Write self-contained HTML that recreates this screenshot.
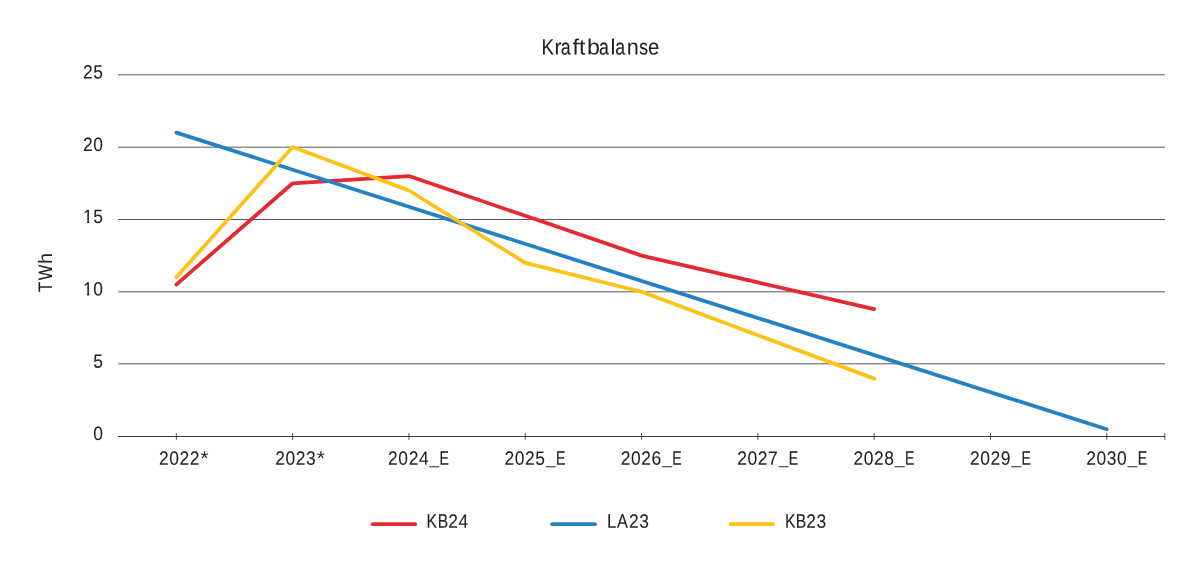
<!DOCTYPE html>
<html lang="no"><head><meta charset="utf-8"><title>Kraftbalanse</title>
<style>
html,body{margin:0;padding:0;background:#fff;}
body{width:1200px;height:569px;overflow:hidden;}
svg{display:block;}
#labels{font-family:"Liberation Sans",sans-serif;font-size:19.2px;fill:#1f1f1f;stroke:#1f1f1f;stroke-width:0;text-rendering:geometricPrecision;}
.d{fill:none;stroke-width:3.75;stroke-linecap:round;stroke-linejoin:round;}
</style></head><body>
<svg width="1200" height="569" viewBox="0 0 1200 569" role="img" aria-label="Kraftbalanse">
<rect width="1200" height="569" fill="#fff"/>
<g id="grid" stroke="#222" stroke-width="0.75">
<line x1="118" y1="74.8" x2="1164.9" y2="74.8"/>
<line x1="118" y1="147.2" x2="1164.9" y2="147.2"/>
<line x1="118" y1="219.5" x2="1164.9" y2="219.5"/>
<line x1="118" y1="291.8" x2="1164.9" y2="291.8"/>
<line x1="118" y1="363.8" x2="1164.9" y2="363.8"/>
</g>
<line id="axis" x1="118" y1="436.5" x2="1164.9" y2="436.5" stroke="#222" stroke-width="0.9"/>
<g id="ticks" stroke="#222" stroke-width="0.8">
<line x1="176.32" y1="433.1" x2="176.32" y2="439.8"/>
<line x1="292.63" y1="433.1" x2="292.63" y2="439.8"/>
<line x1="408.94" y1="433.1" x2="408.94" y2="439.8"/>
<line x1="525.25" y1="433.1" x2="525.25" y2="439.8"/>
<line x1="641.56" y1="433.1" x2="641.56" y2="439.8"/>
<line x1="757.87" y1="433.1" x2="757.87" y2="439.8"/>
<line x1="874.18" y1="433.1" x2="874.18" y2="439.8"/>
<line x1="990.49" y1="433.1" x2="990.49" y2="439.8"/>
<line x1="1106.8" y1="433.1" x2="1106.8" y2="439.8"/>
<line x1="1164.9" y1="433.1" x2="1164.9" y2="439.8"/>
</g>
<g id="series">
<polyline class="d" stroke="#e52931" points="176.32,284.56 292.63,183.27 408.94,176.04 525.25,215.83 641.56,255.62 757.87,282.39 874.18,309.16"/>
<polyline class="d" stroke="#2381c4" points="176.32,132.63 1106.8,429.26"/>
<polyline class="d" stroke="#fcc215" points="176.32,277.33 292.63,147.1 408.94,190.51 525.25,262.86 641.56,291.8 757.87,335.21 874.18,378.62"/>
</g>
<g id="labels">
<text aria-label="Kraftbalanse" transform="rotate(0.06 600.41 54.45)" y="54.45" font-size="22.1"><tspan x="541.42" textLength="12.44" lengthAdjust="spacingAndGlyphs" stroke-width="0.11">K</tspan><tspan x="554.41" textLength="6.99" lengthAdjust="spacingAndGlyphs" stroke-width="0.03">r</tspan><tspan x="560.71" textLength="9.83" lengthAdjust="spacingAndGlyphs" stroke-width="0.14">a</tspan><tspan x="572.57" textLength="6.45" lengthAdjust="spacingAndGlyphs">f</tspan><tspan x="579.06" textLength="6.45" lengthAdjust="spacingAndGlyphs">t</tspan><tspan x="586.91" textLength="12.91" lengthAdjust="spacingAndGlyphs">b</tspan><tspan x="598.96" textLength="9.83" lengthAdjust="spacingAndGlyphs" stroke-width="0.14">a</tspan><tspan x="610.5" textLength="4.93" lengthAdjust="spacingAndGlyphs">l</tspan><tspan x="615.16" textLength="9.83" lengthAdjust="spacingAndGlyphs" stroke-width="0.14">a</tspan><tspan x="626.66" textLength="12.04" lengthAdjust="spacingAndGlyphs">n</tspan><tspan x="639.2" textLength="8.84" lengthAdjust="spacingAndGlyphs" stroke-width="0.14">s</tspan><tspan x="648.09" textLength="11.32" lengthAdjust="spacingAndGlyphs" stroke-width="0.06">e</tspan></text>
<text aria-label="25" transform="rotate(0.06 93.34 78.6)" y="78.6"><tspan x="83.08" textLength="20.52" lengthAdjust="spacingAndGlyphs" letter-spacing="0.64" stroke-width="0.07">25</tspan></text>
<text aria-label="20" transform="rotate(0.06 93.34 150.9)" y="150.9"><tspan x="83.08" textLength="20.52" lengthAdjust="spacingAndGlyphs" letter-spacing="0.64" stroke-width="0.07">20</tspan></text>
<clipPath id="foot15"><path clip-rule="evenodd" d="M0 0H1200V569H0ZM83.41 221H87.16V225H83.41ZM89.29 221H92.91V225H89.29Z"/></clipPath>
<text aria-label="15" transform="rotate(0.06 93.34 223.05)" y="223.05" clip-path="url(#foot15)"><tspan x="83.08" textLength="20.52" lengthAdjust="spacingAndGlyphs" letter-spacing="0.64" stroke-width="0.07">15</tspan></text>
<clipPath id="foot10"><path clip-rule="evenodd" d="M0 0H1200V569H0ZM83.41 294H87.16V297H83.41ZM89.29 294H92.91V297H89.29Z"/></clipPath>
<text aria-label="10" transform="rotate(0.06 93.34 295.5)" y="295.5" clip-path="url(#foot10)"><tspan x="83.08" textLength="20.52" lengthAdjust="spacingAndGlyphs" letter-spacing="0.64" stroke-width="0.07">10</tspan></text>
<text aria-label="5" transform="rotate(0.06 98.47 367.85)" y="367.85"><tspan x="93.34" textLength="10.26" lengthAdjust="spacingAndGlyphs" letter-spacing="0.64" stroke-width="0.07">5</tspan></text>
<text aria-label="0" transform="rotate(0.06 98.47 439.9)" y="439.9"><tspan x="93.34" textLength="10.26" lengthAdjust="spacingAndGlyphs" letter-spacing="0.64" stroke-width="0.07">0</tspan></text>
<text aria-label="TWh" transform="translate(52.04 292) rotate(-89.94)" y="0" font-size="19.5"><tspan x="-0.16" textLength="10.48" lengthAdjust="spacingAndGlyphs" stroke-width="0.08">T</tspan><tspan x="11.73" textLength="15.56" lengthAdjust="spacingAndGlyphs" stroke-width="0.11">W</tspan><tspan x="27.9" textLength="11.06" lengthAdjust="spacingAndGlyphs">h</tspan></text>
<text aria-label="2022*" transform="rotate(0.06 183.8 464.8)" y="464.8"><tspan x="159.05" textLength="41.04" lengthAdjust="spacingAndGlyphs" letter-spacing="0.64" stroke-width="0.07">2022</tspan><tspan x="200.5" textLength="8.06" lengthAdjust="spacingAndGlyphs" font-size="19.5">*</tspan></text>
<text aria-label="2023*" transform="rotate(0.06 300.1 464.8)" y="464.8"><tspan x="275.35" textLength="41.04" lengthAdjust="spacingAndGlyphs" letter-spacing="0.64" stroke-width="0.07">2023</tspan><tspan x="316.8" textLength="8.06" lengthAdjust="spacingAndGlyphs" font-size="19.5">*</tspan></text>
<text aria-label="2024_E" transform="rotate(0.06 418.54 464.8)" y="464.8"><tspan x="388.11" textLength="41.04" lengthAdjust="spacingAndGlyphs" letter-spacing="0.64" stroke-width="0.07">2024</tspan><tspan x="429.62" y="464.1" textLength="9.55" lengthAdjust="spacingAndGlyphs" font-size="16">_</tspan><tspan x="439.6" y="464.8" textLength="9.36" lengthAdjust="spacingAndGlyphs" font-size="19.5" stroke-width="0.2">E</tspan></text>
<text aria-label="2025_E" transform="rotate(0.06 534.9 464.8)" y="464.8"><tspan x="504.47" textLength="41.04" lengthAdjust="spacingAndGlyphs" letter-spacing="0.64" stroke-width="0.07">2025</tspan><tspan x="545.98" y="464.1" textLength="9.55" lengthAdjust="spacingAndGlyphs" font-size="16">_</tspan><tspan x="555.96" y="464.8" textLength="9.36" lengthAdjust="spacingAndGlyphs" font-size="19.5" stroke-width="0.2">E</tspan></text>
<text aria-label="2026_E" transform="rotate(0.06 651.26 464.8)" y="464.8"><tspan x="620.83" textLength="41.04" lengthAdjust="spacingAndGlyphs" letter-spacing="0.64" stroke-width="0.07">2026</tspan><tspan x="662.34" y="464.1" textLength="9.55" lengthAdjust="spacingAndGlyphs" font-size="16">_</tspan><tspan x="672.32" y="464.8" textLength="9.36" lengthAdjust="spacingAndGlyphs" font-size="19.5" stroke-width="0.2">E</tspan></text>
<text aria-label="2027_E" transform="rotate(0.06 767.62 464.8)" y="464.8"><tspan x="737.19" textLength="41.04" lengthAdjust="spacingAndGlyphs" letter-spacing="0.64" stroke-width="0.07">2027</tspan><tspan x="778.7" y="464.1" textLength="9.55" lengthAdjust="spacingAndGlyphs" font-size="16">_</tspan><tspan x="788.68" y="464.8" textLength="9.36" lengthAdjust="spacingAndGlyphs" font-size="19.5" stroke-width="0.2">E</tspan></text>
<text aria-label="2028_E" transform="rotate(0.06 883.98 464.8)" y="464.8"><tspan x="853.55" textLength="41.04" lengthAdjust="spacingAndGlyphs" letter-spacing="0.64" stroke-width="0.07">2028</tspan><tspan x="895.06" y="464.1" textLength="9.55" lengthAdjust="spacingAndGlyphs" font-size="16">_</tspan><tspan x="905.04" y="464.8" textLength="9.36" lengthAdjust="spacingAndGlyphs" font-size="19.5" stroke-width="0.2">E</tspan></text>
<text aria-label="2029_E" transform="rotate(0.06 1000.34 464.8)" y="464.8"><tspan x="969.91" textLength="41.04" lengthAdjust="spacingAndGlyphs" letter-spacing="0.64" stroke-width="0.07">2029</tspan><tspan x="1011.42" y="464.1" textLength="9.55" lengthAdjust="spacingAndGlyphs" font-size="16">_</tspan><tspan x="1021.4" y="464.8" textLength="9.36" lengthAdjust="spacingAndGlyphs" font-size="19.5" stroke-width="0.2">E</tspan></text>
<text aria-label="2030_E" transform="rotate(0.06 1116.7 464.8)" y="464.8"><tspan x="1086.27" textLength="41.04" lengthAdjust="spacingAndGlyphs" letter-spacing="0.64" stroke-width="0.07">2030</tspan><tspan x="1127.78" y="464.1" textLength="9.55" lengthAdjust="spacingAndGlyphs" font-size="16">_</tspan><tspan x="1137.76" y="464.8" textLength="9.36" lengthAdjust="spacingAndGlyphs" font-size="19.5" stroke-width="0.2">E</tspan></text>
<text aria-label="KB24" transform="rotate(0.06 447.72 527.7)" y="527.7"><tspan x="426.61" textLength="10.46" lengthAdjust="spacingAndGlyphs" font-size="19.5" stroke-width="0.14">K</tspan><tspan x="437.67" textLength="10.4" lengthAdjust="spacingAndGlyphs" font-size="19.5" stroke-width="0.14">B</tspan><tspan x="448.3" textLength="20.52" lengthAdjust="spacingAndGlyphs" letter-spacing="0.64" stroke-width="0.07">24</tspan></text>
<text aria-label="LA23" transform="rotate(0.06 628.32 527.7)" y="527.7"><tspan x="607.01" textLength="9.4" lengthAdjust="spacingAndGlyphs" font-size="19.5" stroke-width="0.09">L</tspan><tspan x="617.12" textLength="10.86" lengthAdjust="spacingAndGlyphs" font-size="19.5" stroke-width="0.12">A</tspan><tspan x="629.1" textLength="20.52" lengthAdjust="spacingAndGlyphs" letter-spacing="0.64" stroke-width="0.07">23</tspan></text>
<text aria-label="KB23" transform="rotate(0.06 805.87 527.7)" y="527.7"><tspan x="784.91" textLength="10.46" lengthAdjust="spacingAndGlyphs" font-size="19.5" stroke-width="0.14">K</tspan><tspan x="795.76" textLength="10.46" lengthAdjust="spacingAndGlyphs" font-size="19.5" stroke-width="0.14">B</tspan><tspan x="806.3" textLength="20.52" lengthAdjust="spacingAndGlyphs" letter-spacing="0.64" stroke-width="0.07">23</tspan></text>
</g>
<g id="legend">
<line class="d" x1="372.7" y1="524.15" x2="415.2" y2="524.15" stroke="#e52931"/>
<line class="d" x1="552.1" y1="524.15" x2="595" y2="524.15" stroke="#2381c4"/>
<line class="d" x1="730.7" y1="524.15" x2="773" y2="524.15" stroke="#fcc215"/>
</g>
</svg>
</body></html>
